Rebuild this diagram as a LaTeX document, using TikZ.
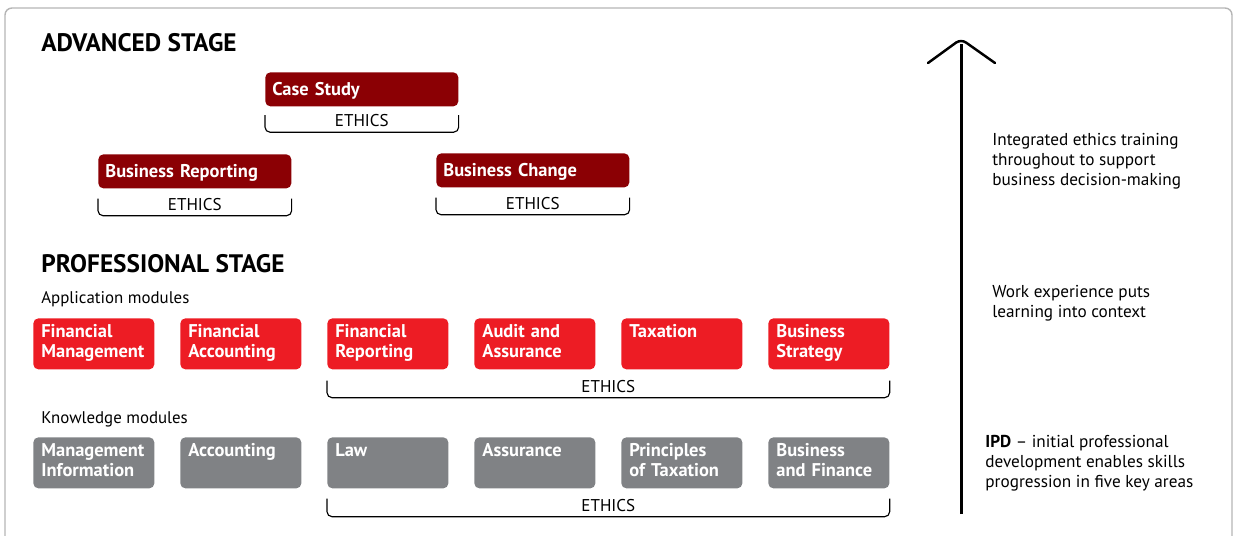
\documentclass[tikz,border=0pt]{standalone}
\usepackage{fontspec}
\setmainfont{PT Sans}
\usetikzlibrary{positioning}

\definecolor{advred}{HTML}{8B0004}
\definecolor{appred}{HTML}{ED1C24}
\definecolor{knowgray}{HTML}{808285}
\definecolor{framegray}{HTML}{B5B5B5}

\tikzset{
  module/.style={anchor=north west, rounded corners=0.1cm, text=white, align=left,
    text width=2.10cm, inner xsep=0.16cm, inner ysep=0pt, text height=0.38cm, text depth=0.64cm,
    font=\fontsize{10.5}{11.34}\selectfont\bfseries},
  appmod/.style={module, fill=appred},
  knowmod/.style={module, fill=knowgray},
  advmod/.style={module, fill=advred, text width=3.58cm, inner xsep=0.14cm,
    text height=0.46cm, text depth=0.22cm},
  bracket/.style={draw, line width=0.65pt, rounded corners=0.1cm},
  ethics/.style={anchor=south, inner sep=0.1cm, font=\fontsize{9.7}{11}\selectfont},
  heading/.style={anchor=base west, inner sep=0pt, font=\fontsize{14.4}{16}\selectfont\bfseries},
  sublabel/.style={anchor=base west, inner sep=0pt, font=\fontsize{9.6}{11}\selectfont},
  note/.style={anchor=north west, inner sep=0pt, align=left, font=\fontsize{9.8}{11.34}\selectfont},
  shaft/.style={line width=1.7pt},
  chevron/.style={line width=1.4pt, line cap=round, rounded corners=0.12cm},
}

\begin{document}
\begin{tikzpicture}[x=0.02cm,y=-0.02cm]
\useasboundingbox (0,0) rectangle (1238,535);
% outer frame, open at the bottom
\draw[framegray, line width=0.8pt, rounded corners=0.14cm] (5,560) -- (5,8) -- (1232,8) -- (1232,560);

% advanced stage
\node[heading] (advtitle) at (41,51) {ADVANCED STAGE};
\node[advmod] (cs) at (265,72) {Case Study};
\node[advmod] (br) at (98,154) {Business Reporting};
\node[advmod] (bc) at (436,153) {Business Change};

\draw[bracket] ([yshift=-0.17cm]cs.south west) -- ([yshift=-0.51cm]cs.south west)
  -- ([yshift=-0.51cm]cs.south east) -- ([yshift=-0.17cm]cs.south east);
\node[ethics] (csethics) at ([yshift=-0.51cm]cs.south) {ETHICS};
\draw[bracket] ([yshift=-0.2cm]br.south west) -- ([yshift=-0.54cm]br.south west)
  -- ([yshift=-0.54cm]br.south east) -- ([yshift=-0.2cm]br.south east);
\node[ethics] (brethics) at ([yshift=-0.54cm]br.south) {ETHICS};
\draw[bracket] ([yshift=-0.2cm]bc.south west) -- ([yshift=-0.54cm]bc.south west)
  -- ([yshift=-0.54cm]bc.south east) -- ([yshift=-0.2cm]bc.south east);
\node[ethics] (bcethics) at ([yshift=-0.54cm]bc.south) {ETHICS};

% professional stage
\node[heading] (protitle) at (41,272) {PROFESSIONAL STAGE};
\node[sublabel] (applabel) at (41,303) {Application modules};
\node[appmod] (fm) at (33,318) {Financial\\Management};
\node[appmod] (fa) at (180,318) {Financial\\Accounting};
\node[appmod] (fr) at (327,318) {Financial\\Reporting};
\node[appmod] (aa) at (474,318) {Audit and\\Assurance};
\node[appmod] (tx) at (621,318) {Taxation};
\node[appmod] (bs) at (768,318) {Business\\Strategy};

\draw[bracket] ([yshift=-0.22cm]fr.south west) -- ([yshift=-0.56cm]fr.south west)
  -- ([yshift=-0.56cm]bs.south east) -- ([yshift=-0.22cm]bs.south east);
\path ([yshift=-0.56cm]fr.south west) -- ([yshift=-0.56cm]bs.south east)
  node[ethics, midway] (appethics) {ETHICS};

\node[sublabel] (knowlabel) at (41,423) {Knowledge modules};
\node[knowmod] (mi) at (33,437) {Management\\Information};
\node[knowmod] (ac) at (180,437) {Accounting};
\node[knowmod] (lw) at (327,437) {Law};
\node[knowmod] (as) at (474,437) {Assurance};
\node[knowmod] (pt) at (621,437) {Principles\\of Taxation};
\node[knowmod] (bf) at (768,437) {Business\\and Finance};

\draw[bracket] ([yshift=-0.2cm]lw.south west) -- ([yshift=-0.56cm]lw.south west)
  -- ([yshift=-0.56cm]bf.south east) -- ([yshift=-0.2cm]bf.south east);
\path ([yshift=-0.56cm]lw.south west) -- ([yshift=-0.56cm]bf.south east)
  node[ethics, midway] (knowethics) {ETHICS};

% progression arrow
\coordinate (arrowfoot) at (961,514);
\coordinate (arrowneck) at (961,44);
\coordinate (barbleft) at (928,63);
\coordinate (arrowtip) at (961,39);
\coordinate (barbright) at (995,63);
\draw[shaft] (arrowfoot) -- (arrowneck);
\draw[chevron] (barbleft) -- (arrowtip) -- (barbright);

\node[note] (ethicsnote) at (992,133) {Integrated ethics training\\throughout to support\\business decision-making};
\node[note] (worknote) at (992,285) {Work experience puts\\learning into context};
\node[note] (ipdnote) at (985,435) {\textbf{IPD} -- initial professional\\development enables skills\\progression in five key areas};
\end{tikzpicture}
\end{document}
